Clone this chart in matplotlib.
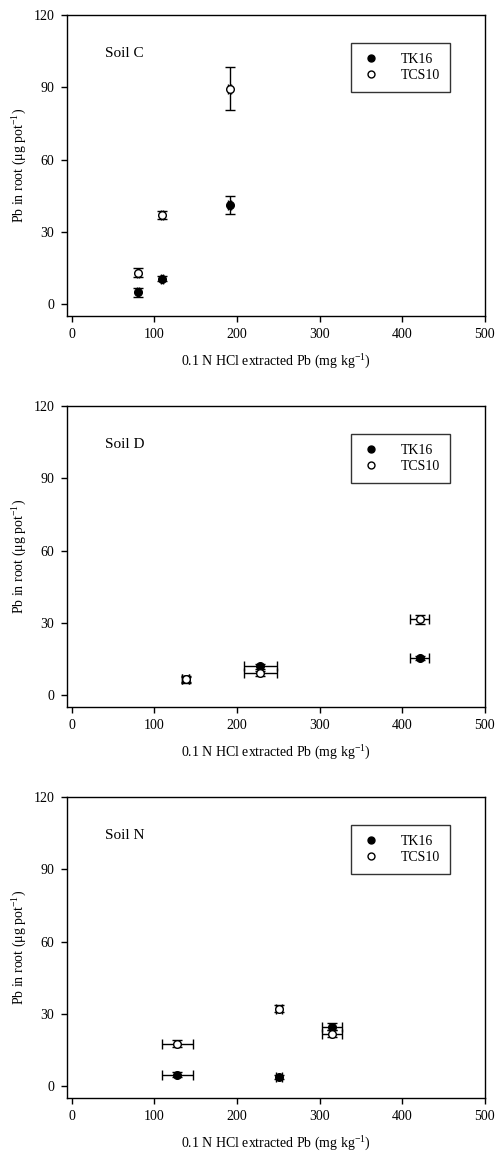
import matplotlib
matplotlib.use("Agg")
import matplotlib.pyplot as plt
from matplotlib.lines import Line2D

plt.rcParams['font.family'] = ['Liberation Serif', 'DejaVu Serif']
plt.rcParams['mathtext.fontset'] = 'custom'
plt.rcParams['mathtext.rm'] = 'Liberation Serif'
plt.rcParams['mathtext.it'] = 'Liberation Serif:italic'

# soil C
c_tk_x = [80, 109, 191]
c_tk_y = [4.8, 10.5, 41.2]
c_tk_xerr = [1.5, 1.5, 2.0]
c_tk_yerr = [2.0, 1.0, 3.7]
c_tcs_x = [80, 109, 191]
c_tcs_y = [13.0, 36.9, 89.5]
c_tcs_xerr = [1.5, 1.5, 2.0]
c_tcs_yerr = [2.0, 1.8, 9.0]

# soil D
d_tk_x = [138, 228, 421]
d_tk_y = [6.5, 11.8, 15.3]
d_tk_xerr = [4, 20, 11.5]
d_tk_yerr = [1.0, 1.2, 1.0]
d_tcs_x = [138, 228, 421]
d_tcs_y = [6.5, 9.0, 31.4]
d_tcs_xerr = [4, 20, 11.5]
d_tcs_yerr = [1.5, 1.0, 2.0]

# soil N
n_tk_x = [128, 251, 315]
n_tk_y = [4.7, 3.7, 24.6]
n_tk_xerr = [19, 4, 12.5]
n_tk_yerr = [1.0, 1.0, 1.5]
n_tcs_x = [128, 251, 315]
n_tcs_y = [17.6, 32.1, 21.7]
n_tcs_xerr = [19, 4, 12.5]
n_tcs_yerr = [1.5, 1.5, 1.5]

panels = [
    ("Soil C", c_tk_x, c_tk_y, c_tk_xerr, c_tk_yerr, c_tcs_x, c_tcs_y, c_tcs_xerr, c_tcs_yerr),
    ("Soil D", d_tk_x, d_tk_y, d_tk_xerr, d_tk_yerr, d_tcs_x, d_tcs_y, d_tcs_xerr, d_tcs_yerr),
    ("Soil N", n_tk_x, n_tk_y, n_tk_xerr, n_tk_yerr, n_tcs_x, n_tcs_y, n_tcs_xerr, n_tcs_yerr),
]

fig = plt.figure(figsize=(5.01, 11.57), dpi=100)
bottoms = [0.7269, 0.389, 0.051]
fs = 10

for (name, tkx, tky, tkxe, tkye, tcx, tcy, tcxe, tcye), b in zip(panels, bottoms):
    ax = fig.add_axes([0.1337, b, 0.834, 0.260])
    ax.errorbar(tkx, tky, xerr=tkxe, yerr=tkye, fmt='o', color='black', mfc='black',
                mec='black', ms=5.5, capsize=3.5, elinewidth=1, capthick=1)
    ax.errorbar(tcx, tcy, xerr=tcxe, yerr=tcye, fmt='o', color='black', mfc='white',
                mec='black', ms=5.5, capsize=3.5, elinewidth=1, capthick=1)
    ax.set_xlim(-5.7, 500)
    ax.set_ylim(-5, 120)
    ax.set_xticks([0, 100, 200, 300, 400, 500])
    ax.set_yticks([0, 30, 60, 90, 120])
    ax.tick_params(direction='out', length=4, width=1, labelsize=fs, pad=5)
    for s in ax.spines.values():
        s.set_linewidth(1)
    ax.set_xlabel(r'0.1 N HCl extracted Pb (mg kg$^{-1}$)', fontsize=fs, labelpad=8)
    ax.set_ylabel(r'Pb in root ($\mathrm{\mu}$g pot$^{-1}$)', fontsize=fs, labelpad=3)
    ax.text(0.091, 0.874, name, transform=ax.transAxes, fontsize=fs + 1, va='center')
    handles = [
        Line2D([], [], ls='none', marker='o', ms=5, mfc='black', mec='black'),
        Line2D([], [], ls='none', marker='o', ms=5, mfc='white', mec='black'),
    ]
    leg = ax.legend(handles, ['TK16', 'TCS10'], loc='upper right',
                    bbox_to_anchor=(0.916, 0.907), fontsize=fs,
                    frameon=True, fancybox=False, edgecolor='black', handletextpad=1.4,
                    borderpad=0.7, borderaxespad=0, handlelength=1.5, labelspacing=0.25)
    leg.get_frame().set_linewidth(1)

fig.savefig('out.png', dpi=100)
